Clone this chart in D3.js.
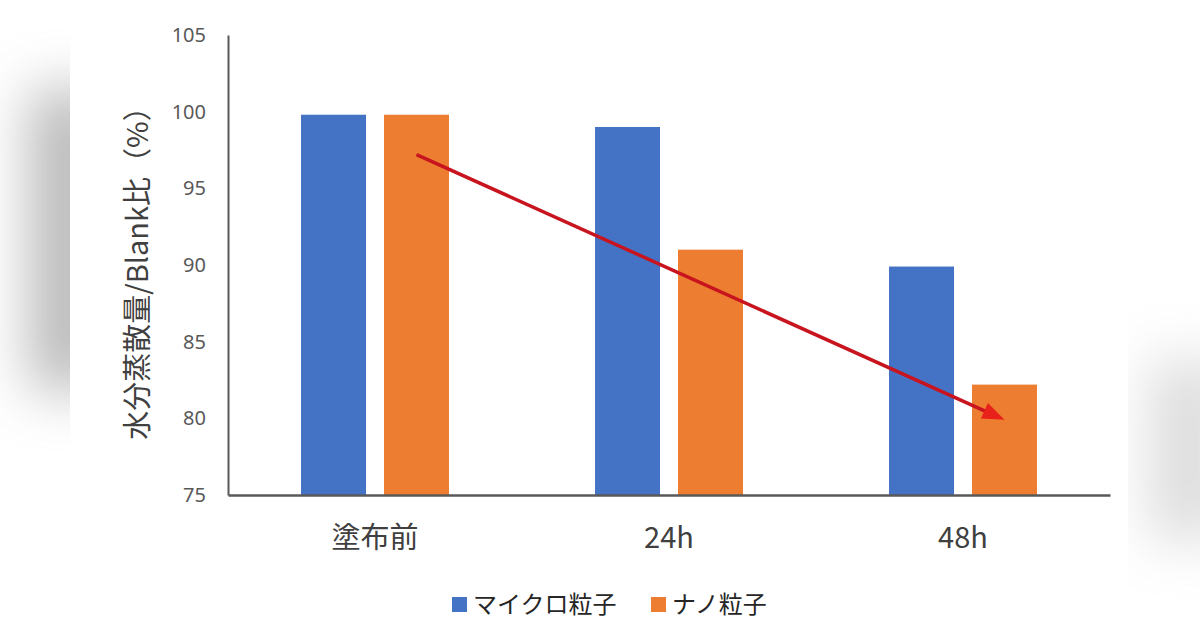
<!DOCTYPE html>
<html><head><meta charset="utf-8">
<script src="https://cdn.jsdelivr.net/npm/d3@7"></script>
<style>
html,body{margin:0;padding:0;background:#fff;}
svg{display:block;}
</style></head>
<body>
<svg id="chart" width="1200" height="630"></svg>
<script>
const categories = ["塗布前", "24h", "48h"];
const seriesNames = ["マイクロ粒子", "ナノ粒子"];
const microValues = [99.8, 99.0, 89.9];
const nanoValues = [99.8, 91.0, 82.2];
const yTicks = [75, 80, 85, 90, 95, 100, 105];
const yLabel = "水分蒸散量/Blank比（%）";
const arrowFrom = {cat: "塗布前", value: 97.2};
const arrowTo = {cat: "48h", value: 79.9};

const colors = ["#4472C4", "#ED7D31"];
const svg = d3.select("#chart");
const W = 1200, H = 630;
const m = {left: 228, right: 90, top: 35, bottom: 135};

// blurred side backdrop
const defs = svg.append("defs");
defs.append("filter").attr("id","blur").attr("x","-100%").attr("y","-50%").attr("width","300%").attr("height","200%")
  .append("feGaussianBlur").attr("stdDeviation", 28);
svg.append("rect").attr("width",W).attr("height",H).attr("fill","#fff");
svg.append("rect").attr("x",30).attr("y",90).attr("width",80).attr("height",300).attr("fill","#8a8a8a").attr("filter","url(#blur)").attr("opacity",0.6);
svg.append("rect").attr("x",1150).attr("y",360).attr("width",80).attr("height",180).attr("fill","#a8a8a8").attr("filter","url(#blur)").attr("opacity",0.4);
svg.append("rect").attr("x",70).attr("y",0).attr("width",1058).attr("height",H).attr("fill","#fff");

const x = d3.scaleBand().domain(categories).range([m.left, W - m.right]).paddingInner(0).paddingOuter(0);
const xs = d3.scaleBand().domain(seriesNames).range([0, x.bandwidth()]).paddingInner(0.217).paddingOuter(0.88);
const y = d3.scaleLinear().domain([75, 105]).range([H - m.bottom, m.top]);

const data = categories.map((c, i) => ({cat: c, vals: [microValues[i], nanoValues[i]]}));

const g = svg.append("g");
g.selectAll("g.grp").data(data).join("g").attr("class","grp")
  .attr("transform", d => `translate(${x(d.cat)},0)`)
  .selectAll("rect").data(d => d.vals.map((v, j) => ({v, s: seriesNames[j], j})))
  .join("rect")
  .attr("x", d => xs(d.s)).attr("width", xs.bandwidth())
  .attr("y", d => y(d.v)).attr("height", d => y(75) - y(d.v))
  .attr("fill", d => colors[d.j]);

// y axis
const yAxis = d3.axisLeft(y).tickValues(yTicks).tickSize(0).tickPadding(22);
const ya = svg.append("g").attr("transform", `translate(${m.left},0)`).call(yAxis);
ya.select(".domain").attr("stroke","#595959").attr("stroke-width",2);
ya.selectAll("text").attr("font-family","'Noto Sans', 'DejaVu Sans', sans-serif").attr("font-size",20).attr("fill","#595959");

// x axis
const xAxis = d3.axisBottom(x).tickSize(0).tickPadding(32);
const xa = svg.append("g").attr("transform", `translate(0,${y(75)})`).call(xAxis);
xa.select(".domain").attr("stroke","#595959").attr("stroke-width",2.5);
xa.selectAll("text").attr("font-family","'Noto Sans CJK JP', 'Noto Sans', sans-serif").attr("font-size",29).attr("fill","#404040");

// y label
svg.append("text").attr("transform", `translate(148,${(y(105)+y(75))/2 + 1}) rotate(-90)`)
  .attr("text-anchor","middle").attr("font-family","'Noto Sans CJK JP', sans-serif")
  .attr("font-size",29).attr("fill","#404040").text(yLabel);

// arrow
const ax1 = x(arrowFrom.cat) + xs(seriesNames[1]) + xs.bandwidth()/2;
const ax2 = x(arrowTo.cat) + xs(seriesNames[1]) + xs.bandwidth()/2;
const ay1 = y(arrowFrom.value), ay2 = y(arrowTo.value);
const ang = Math.atan2(ay2 - ay1, ax2 - ax1);
const headLen = 22, headW = 8.5;
const bx = ax2 - headLen*Math.cos(ang), by = ay2 - headLen*Math.sin(ang);
svg.append("line").attr("x1",ax1).attr("y1",ay1).attr("x2",bx + 2*Math.cos(ang)).attr("y2",by + 2*Math.sin(ang))
  .attr("stroke","#C8141E").attr("stroke-width",3.5);
const px = -Math.sin(ang), py = Math.cos(ang);
svg.append("path").attr("d", d3.line()([[ax2,ay2],[bx+px*headW, by+py*headW],[bx-px*headW, by-py*headW]]) + "Z")
  .attr("fill","#E8221A");

// legend
const legend = svg.append("g").attr("font-family","'Noto Sans CJK JP', sans-serif").attr("font-size",24).attr("fill","#262626");
const legX = [452, 651];
seriesNames.forEach((s, i) => {
  legend.append("rect").attr("x", legX[i]).attr("y", 597).attr("width",15).attr("height",15).attr("fill",colors[i]);
  legend.append("text").attr("x", legX[i] + 21).attr("y", 605).attr("dy","0.35em").text(s);
});
</script>
</body></html>
